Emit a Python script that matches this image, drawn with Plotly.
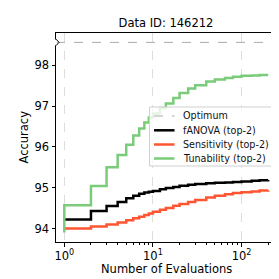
import math
import plotly.graph_objects as go

evals = [1, 2, 3, 4, 5, 6, 7, 8, 9, 10, 12, 14, 17, 20, 25, 30, 40, 50, 65, 80, 100, 130, 160, 200]
fanova = [94.22, 94.43, 94.55, 94.65, 94.74, 94.80, 94.85, 94.88, 94.90, 94.92, 94.96, 94.99,
          95.02, 95.05, 95.07, 95.09, 95.11, 95.12, 95.13, 95.14, 95.15, 95.17, 95.18, 95.19]
sensitivity = [94.00, 94.05, 94.10, 94.15, 94.20, 94.25, 94.29, 94.33, 94.37, 94.41, 94.46, 94.50,
               94.56, 94.60, 94.65, 94.70, 94.76, 94.80, 94.84, 94.87, 94.89, 94.91, 94.93, 94.94]
tun_evals = [1] + evals
tunability = [93.90, 94.57, 95.04, 95.50, 95.80, 96.05, 96.28, 96.45, 96.60, 96.72, 96.82, 96.95, 97.06,
              97.20, 97.32, 97.43, 97.51, 97.60, 97.65, 97.69, 97.72, 97.74, 97.75, 97.76, 97.76]
optimum = 98.56

series_names = ["Optimum", "fANOVA (top-2)", "Sensitivity (top-2)", "Tunability (top-2)"]
series_colors = ["#aaaaaa", "black", "#ff5533", "#7acc7a"]

x_range = [0.806, 245]
y_range = [93.67, 98.79]

fig = go.Figure()
fig.add_shape(type="line", xref="x domain", yref="y", x0=0, x1=1, y0=optimum, y1=optimum,
              line=dict(color="#aaaaaa", width=1, dash="dash"))
fig.add_trace(go.Scatter(x=evals, y=fanova, mode="lines", name=series_names[1],
                         line=dict(color=series_colors[1], width=2.5, shape="hv")))
fig.add_trace(go.Scatter(x=evals, y=sensitivity, mode="lines", name=series_names[2],
                         line=dict(color=series_colors[2], width=2.5, shape="hv")))
fig.add_trace(go.Scatter(x=tun_evals, y=tunability, mode="lines", name=series_names[3],
                         line=dict(color=series_colors[3], width=2.5, shape="hv")))

# axis-break style marker on the y axis at the optimum level
fig.add_shape(type="line", xref="x domain", yref="y", x0=0, x1=0, y0=optimum - 0.07, y1=optimum + 0.07,
              line=dict(color="white", width=2), layer="above")
fig.add_shape(type="path", xref="x domain", yref="y",
              path=f"M 0,{optimum + 0.08} L 0.014,{optimum} L 0,{optimum - 0.08}",
              line=dict(color="black", width=1), layer="above")

# legend (drawn inside the axes, matplotlib-like)
L, T, W, H = 48, 25, 220, 209
def px(xp):
    return (xp - L) / W
def py(yp):
    return (T + H - yp) / H

fig.add_shape(type="rect", xref="paper", yref="paper", x0=px(141.5), x1=px(263.5), y0=py(158), y1=py(99),
              fillcolor="rgba(255,255,255,0.8)", line=dict(color="#d0d0d0", width=1), layer="above")
entry_y = [108.0, 122.3, 136.5, 150.5]
for name, color, ey in zip(series_names, series_colors, entry_y):
    dash = "dash" if name == "Optimum" else "solid"
    width = 1 if name == "Optimum" else 2.5
    fig.add_shape(type="line", xref="paper", yref="paper", x0=px(146), x1=px(166.5), y0=py(ey), y1=py(ey),
                  line=dict(color=color, width=width, dash=dash), layer="above")
    fig.add_annotation(xref="paper", yref="paper", x=px(173), y=py(ey), text=name, showarrow=False,
                       xanchor="left", yanchor="middle", font=dict(size=9.6, color="#111111"))

# axis titles
fig.add_annotation(xref="paper", yref="paper", x=0.5, y=py(260.5), text="Number of Evaluations",
                   showarrow=False, xanchor="center", yanchor="middle", font=dict(size=11.5))
fig.add_annotation(xref="paper", yref="paper", x=px(15), y=0.5, text="Accuracy", textangle=-90,
                   showarrow=False, xanchor="center", yanchor="middle", font=dict(size=11.5))

font = "DejaVu Sans"
fig.update_layout(
    width=279, height=279,
    margin=dict(l=L, r=279 - L - W, t=T, b=279 - T - H, autoexpand=False),
    plot_bgcolor="white", paper_bgcolor="white",
    font=dict(family=font, size=11, color="black"),
    title=dict(text="Data ID: 146212", x=0.5, xref="paper", y=1 - 15 / 279, yref="container",
               xanchor="center", yanchor="middle", font=dict(size=11.5)),
    showlegend=False,
)
fig.update_xaxes(type="log", range=[math.log10(v) for v in x_range],
                 showline=True, linecolor="black", linewidth=1, mirror=True,
                 ticks="outside", ticklen=3.5, tickcolor="black",
                 tickvals=[1, 10, 100], ticktext=["10<sup>0</sup>", "10<sup>1</sup>", "10<sup>2</sup>"],
                 tickfont=dict(size=11.5),
                 showgrid=True, gridcolor="#dddddd", griddash="dash", gridwidth=0.8,
                 minor=dict(ticks="outside", ticklen=2, tickcolor="black",
                            tickvals=[2, 3, 4, 5, 6, 7, 8, 9, 20, 30, 40, 50, 60, 70, 80, 90, 200],
                            showgrid=False),
                 zeroline=False)
fig.update_yaxes(range=y_range, showline=True, linecolor="black", linewidth=1, mirror=True,
                 ticks="outside", ticklen=3.5, tickcolor="black",
                 tickvals=[94, 95, 96, 97, 98], tickfont=dict(size=11.5),
                 showgrid=False, zeroline=False)

fig.write_html("out.html")
